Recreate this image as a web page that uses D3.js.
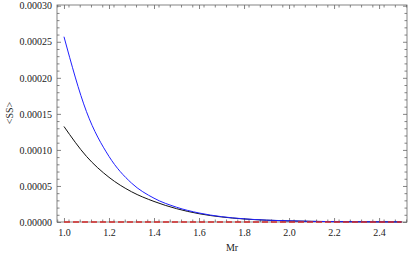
<!DOCTYPE html>
<html>
<head>
<meta charset="utf-8">
<script src="https://cdn.jsdelivr.net/npm/d3@7"></script>
<style>
  body { margin: 0; background: #fff; }
  svg { display: block; }
  text { font-family: "Liberation Serif", "Times New Roman", serif; }
</style>
</head>
<body>
<div id="chart-wrapper"></div>
<script>
// Data
let mrValues = [1.0, 1.1, 1.2, 1.3, 1.4, 1.5, 1.6, 1.7, 1.8, 1.9, 2.0, 2.1, 2.2, 2.3, 2.4, 2.5]
let blueValues = [2.57e-4, 1.53e-4, 9.1e-5, 5.4e-5, 3.3e-5, 2.05e-5, 1.25e-5, 7.4e-6, 4.4e-6, 2.6e-6, 1.6e-6, 9e-7, 5e-7, 3e-7, 2e-7, 1e-7]
let blackValues = [1.325e-4, 9.1e-5, 6.2e-5, 4.2e-5, 2.85e-5, 1.85e-5, 1.15e-5, 7.0e-6, 4.2e-6, 2.5e-6, 1.5e-6, 9e-7, 5e-7, 3e-7, 2e-7, 1e-7]
let redValues = [0, 0, 0, 0, 0, 0, 0, 0, 0, 0, 0, 0, 0, 0, 0, 0]
let xTicks = [1.0, 1.2, 1.4, 1.6, 1.8, 2.0, 2.2, 2.4]
let yTicks = [0, 0.00005, 0.0001, 0.00015, 0.0002, 0.00025, 0.0003]

let width = 408
let height = 257
let frame = {left: 57, right: 407, top: 5, bottom: 222}
let frameColor = "#666"

const draw = () => {
  var svg = d3.select("#chart-wrapper")
    .append("svg")
    .attr("width", width)
    .attr("height", height)

  var xScale = d3.scaleLinear().domain([0.969, 2.524]).range([frame.left, frame.right])
  var yScale = d3.scaleLinear().domain([0, 0.000301]).range([frame.bottom, frame.top])

  var xMinor = d3.range(0.97, 2.53, 0.05).map(d => +d.toFixed(2)).filter(d => xTicks.indexOf(d) < 0)
  var yMinor = d3.range(0, 0.000301, 0.00001).map(d => +d.toFixed(6)).filter(d => yTicks.indexOf(d) < 0)

  // frame first so the curves sit on top of it
  svg.append("rect")
    .attr("x", frame.left).attr("y", frame.top)
    .attr("width", frame.right - frame.left).attr("height", frame.bottom - frame.top)
    .attr("fill", "none").attr("stroke", frameColor).attr("stroke-width", 0.8)

  // tick marks, drawn inside the frame on all four sides
  const tickSet = (g, axis) => {
    g.call(axis)
    g.attr("font-family", null)
    g.select(".domain").remove()
    g.selectAll("line").attr("stroke", frameColor).attr("stroke-width", 0.8)
    g.selectAll("text").style("font-size", "10px").attr("fill", "#222")
  }

  svg.append("g").attr("transform", `translate(0,${frame.bottom})`)
    .call(g => tickSet(g, d3.axisBottom(xScale).tickValues(xTicks).tickSize(-4).tickPadding(7).tickFormat(d3.format(".1f"))))
  svg.append("g").attr("transform", `translate(0,${frame.bottom})`)
    .call(g => tickSet(g, d3.axisBottom(xScale).tickValues(xMinor).tickSize(-2.5).tickFormat("")))
  svg.append("g").attr("transform", `translate(0,${frame.top})`)
    .call(g => tickSet(g, d3.axisTop(xScale).tickValues(xTicks).tickSize(-4).tickFormat("")))
  svg.append("g").attr("transform", `translate(0,${frame.top})`)
    .call(g => tickSet(g, d3.axisTop(xScale).tickValues(xMinor).tickSize(-2.5).tickFormat("")))

  svg.append("g").attr("transform", `translate(${frame.left},0)`)
    .call(g => tickSet(g, d3.axisLeft(yScale).tickValues(yTicks).tickSize(-4).tickPadding(5).tickFormat(d3.format(".5f"))))
  svg.append("g").attr("transform", `translate(${frame.left},0)`)
    .call(g => tickSet(g, d3.axisLeft(yScale).tickValues(yMinor).tickSize(-2.5).tickFormat("")))
  svg.append("g").attr("transform", `translate(${frame.right},0)`)
    .call(g => tickSet(g, d3.axisRight(yScale).tickValues(yTicks).tickSize(-4).tickFormat("")))
  svg.append("g").attr("transform", `translate(${frame.right},0)`)
    .call(g => tickSet(g, d3.axisRight(yScale).tickValues(yMinor).tickSize(-2.5).tickFormat("")))

  // curves
  var line = d3.line()
    .x((d, i) => xScale(mrValues[i]))
    .y(d => yScale(d))
    .curve(d3.curveMonotoneX)

  svg.append("path").datum(blackValues)
    .attr("d", line).attr("fill", "none")
    .attr("stroke", "#111").attr("stroke-width", 1)
  svg.append("path").datum(blueValues)
    .attr("d", line).attr("fill", "none")
    .attr("stroke", "#2020ff").attr("stroke-width", 1)
  svg.append("path").datum(redValues)
    .attr("d", line).attr("fill", "none")
    .attr("stroke", "#d42a2a").attr("stroke-width", 1.4).attr("stroke-dasharray", "6,3")

  // axis labels
  svg.append("text")
    .attr("x", 232).attr("y", 251)
    .attr("text-anchor", "middle")
    .style("font-size", "10px").attr("fill", "#222")
    .text("Mr")
  svg.append("text")
    .attr("transform", "translate(13,113) rotate(-90)")
    .attr("text-anchor", "middle")
    .style("font-size", "10px").attr("fill", "#222")
    .text("<SS>")
}

draw()
</script>
</body>
</html>
